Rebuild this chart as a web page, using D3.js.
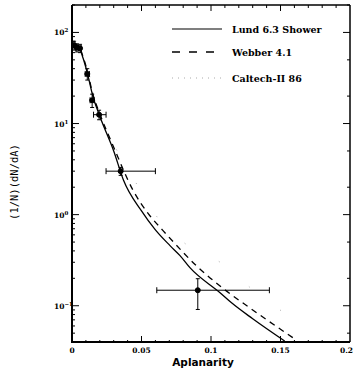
<!DOCTYPE html>
<html>
<head>
<meta charset="utf-8">
<script src="https://cdn.jsdelivr.net/npm/d3@7"></script>
<style>
  body { margin: 0; background: #fff; }
  svg { display: block; }
  .tick-label { font-family: "DejaVu Serif", serif; font-weight: bold; font-size: 7.5px; fill: #000; }
  .legend-label { font-family: "DejaVu Serif", serif; font-weight: bold; font-size: 9.5px; fill: #000; }
</style>
</head>
<body>
<div id="chart"></div>
<script>
// data

var series = ["Lund 6.3 Shower", "Webber 4.1", "Caltech-II 86"];

var lundA = [0.001, 0.005, 0.008, 0.011, 0.015, 0.02, 0.03, 0.037, 0.05, 0.06, 0.0705, 0.0777, 0.085, 0.1065, 0.115, 0.13, 0.153];
var lundV = [75, 69, 52, 36, 20, 12, 5.0, 2.4, 1.1, 0.68, 0.457, 0.355, 0.26, 0.139, 0.107, 0.072, 0.041];

var webberA = [0.001, 0.005, 0.008, 0.011, 0.015, 0.02, 0.03, 0.044, 0.055, 0.0655, 0.072, 0.09, 0.108, 0.13, 0.159];
var webberV = [77, 70, 54, 38, 21, 12.8, 5.5, 1.84, 1.02, 0.667, 0.52, 0.27, 0.158, 0.09, 0.0445];

var caltechA = [0.001, 0.005, 0.01, 0.02, 0.03, 0.049, 0.06, 0.08, 0.108, 0.13, 0.16];
var caltechV = [78, 71, 45, 13.5, 6.0, 1.88, 1.0, 0.5, 0.29, 0.15, 0.07];

// measured points: x, y, x error low/high, y error low/high
var ptA   = [0.0015, 0.0035, 0.0058, 0.011, 0.0145, 0.0195, 0.035, 0.0905];
var ptV   = [72, 68, 67, 35, 18, 12.5, 3.0, 0.148];
var ptXlo = [0.0005, 0.0025, 0.0048, 0.0095, 0.013, 0.0155, 0.0245, 0.061];
var ptXhi = [0.0025, 0.0045, 0.0068, 0.0125, 0.016, 0.0245, 0.060, 0.142];
var ptYlo = [64, 61, 60, 30, 15, 11, 2.7, 0.091];
var ptYhi = [80, 75, 74, 40, 21, 14, 3.3, 0.198];

var xTicks = [0, 0.05, 0.1, 0.15, 0.2];
var xTickLabels = ["0", "0.05", "0.1", "0.15", "0.2"];
var yTicks = [100, 10, 1, 0.1];
var yTickExp = ["2", "1", "0", "\u22121"];

var width = 354,
    height = 373,
    margin = { left: 72, right: 4, top: 5, bottom: 31 };

var svg = d3.select("#chart").append("svg")
    .attr("width", width)
    .attr("height", height);

var x = d3.scaleLinear().domain([0, 0.2]).range([margin.left, width - margin.right]);
var y = d3.scaleLog().domain([0.04, 200]).range([height - margin.bottom, margin.top]);

var x0 = margin.left, x1 = width - margin.right,
    y0 = height - margin.bottom, y1 = margin.top;

svg.append("clipPath").attr("id", "plot")
    .append("rect").attr("x", x0).attr("y", y1).attr("width", x1 - x0).attr("height", y0 - y1);

// minor / major ticks
var minorX = d3.range(0.01, 0.2, 0.01).filter(function (d) { return Math.abs(d * 20 - Math.round(d * 20)) > 1e-6; });
var majorX = [0.05, 0.1, 0.15];
var ticks = svg.append("g").attr("stroke", "#000");

minorX.forEach(function (d) {
    ticks.append("line").attr("x1", x(d)).attr("x2", x(d)).attr("y1", y0).attr("y2", y0 - 2).attr("stroke-width", 1);
    ticks.append("line").attr("x1", x(d)).attr("x2", x(d)).attr("y1", y1).attr("y2", y1 + 3).attr("stroke-width", 1);
});
majorX.forEach(function (d) {
    ticks.append("line").attr("x1", x(d)).attr("x2", x(d)).attr("y1", y0).attr("y2", y0 - 6).attr("stroke-width", 1);
    ticks.append("line").attr("x1", x(d)).attr("x2", x(d)).attr("y1", y1).attr("y2", y1 + 6).attr("stroke-width", 1);
});

var minorY = [];
[0.01, 0.1, 1, 10, 100].forEach(function (dec) {
    for (var k = 2; k <= 9; k++) {
        var v = dec * k;
        if (v >= 0.04 && v <= 200) minorY.push(v);
    }
});
minorY.forEach(function (d) {
    ticks.append("line").attr("x1", x0).attr("x2", x0 + 3).attr("y1", y(d)).attr("y2", y(d)).attr("stroke-width", 1);
    var m = Math.round(d / Math.pow(10, Math.floor(Math.log10(d) + 1e-9)));
    if (m === 2 || m === 5) {
        ticks.append("line").attr("x1", x1).attr("x2", x1 - 3).attr("y1", y(d)).attr("y2", y(d)).attr("stroke-width", 1);
    }
});
yTicks.forEach(function (d) {
    ticks.append("line").attr("x1", x0).attr("x2", x0 + 7).attr("y1", y(d)).attr("y2", y(d)).attr("stroke-width", 1);
    ticks.append("line").attr("x1", x1).attr("x2", x1 - 7).attr("y1", y(d)).attr("y2", y(d)).attr("stroke-width", 1);
});

// frame
svg.append("line").attr("x1", x0).attr("x2", x1).attr("y1", y1).attr("y2", y1).attr("stroke", "#000").attr("stroke-width", 1.5);
svg.append("line").attr("x1", x1).attr("x2", x1).attr("y1", y1).attr("y2", y0).attr("stroke", "#000").attr("stroke-width", 1.5);
svg.append("line").attr("x1", x0).attr("x2", x0).attr("y1", y1).attr("y2", y0 + 1).attr("stroke", "#000").attr("stroke-width", 2);
svg.append("line").attr("x1", x0 - 1).attr("x2", x1).attr("y1", y0).attr("y2", y0).attr("stroke", "#000").attr("stroke-width", 2);

// tick labels (last one pushed in so it stays inside the page)
svg.selectAll(".xl").data(xTicks).enter().append("text")
    .attr("class", "tick-label")
    .attr("x", function (d, i) { return i === xTicks.length - 1 ? width - 1 : x(d); })
    .attr("y", y0 + 11)
    .attr("text-anchor", function (d, i) { return i === xTicks.length - 1 ? "end" : "middle"; })
    .text(function (d, i) { return xTickLabels[i]; });

var yl = svg.selectAll(".yl").data(yTicks).enter().append("text")
    .attr("class", "tick-label")
    .attr("x", x0 - 18)
    .attr("y", function (d) { return y(d) + 3; })
    .attr("text-anchor", "start");
yl.append("tspan").text("10");
yl.append("tspan").attr("dy", -3).style("font-size", "5.5px").text(function (d, i) { return yTickExp[i]; });

// axis titles
svg.append("text")
    .attr("transform", "translate(18," + 182 + ") rotate(-90)")
    .attr("text-anchor", "middle")
    .style("font-family", "DejaVu Sans Mono, monospace")
    .style("font-size", "10.5px")
    .text("(1/N)(dN/dA)");

svg.append("text")
    .attr("x", 203)
    .attr("y", 366)
    .attr("text-anchor", "middle")
    .style("font-family", "DejaVu Sans, sans-serif")
    .style("font-weight", "bold")
    .style("font-size", "10.5px")
    .text("Aplanarity");

// curves
var line = d3.line()
    .x(function (d) { return x(d[0]); })
    .y(function (d) { return y(d[1]); })
    .curve(d3.curveMonotoneX);

var plot = svg.append("g").attr("clip-path", "url(#plot)");

plot.append("path")
    .attr("d", line(d3.zip(caltechA, caltechV)))
    .attr("fill", "none").attr("stroke", "#aaa").attr("stroke-width", 1)
    .attr("stroke-dasharray", "1,38");

plot.append("path")
    .attr("d", line(d3.zip(webberA, webberV)))
    .attr("fill", "none").attr("stroke", "#000").attr("stroke-width", 1.3)
    .attr("stroke-dasharray", "6,5");

plot.append("path")
    .attr("d", line(d3.zip(lundA, lundV)))
    .attr("fill", "none").attr("stroke", "#000").attr("stroke-width", 1.3);

// data points with error bars
var pts = d3.range(ptA.length);
var eb = plot.selectAll(".pt").data(pts).enter().append("g").attr("stroke", "#000").attr("stroke-width", 1);
eb.append("line")
    .attr("x1", function (i) { return x(ptXlo[i]); }).attr("x2", function (i) { return x(ptXhi[i]); })
    .attr("y1", function (i) { return y(ptV[i]); }).attr("y2", function (i) { return y(ptV[i]); });
eb.append("line")
    .attr("x1", function (i) { return x(ptA[i]); }).attr("x2", function (i) { return x(ptA[i]); })
    .attr("y1", function (i) { return y(ptYlo[i]); }).attr("y2", function (i) { return y(ptYhi[i]); });
// caps
eb.append("line")
    .attr("x1", function (i) { return x(ptXlo[i]); }).attr("x2", function (i) { return x(ptXlo[i]); })
    .attr("y1", function (i) { return y(ptV[i]) - 3; }).attr("y2", function (i) { return y(ptV[i]) + 3; });
eb.append("line")
    .attr("x1", function (i) { return x(ptXhi[i]); }).attr("x2", function (i) { return x(ptXhi[i]); })
    .attr("y1", function (i) { return y(ptV[i]) - 3; }).attr("y2", function (i) { return y(ptV[i]) + 3; });
eb.append("line")
    .attr("x1", function (i) { return x(ptA[i]) - 2; }).attr("x2", function (i) { return x(ptA[i]) + 2; })
    .attr("y1", function (i) { return y(ptYlo[i]); }).attr("y2", function (i) { return y(ptYlo[i]); });
eb.append("line")
    .attr("x1", function (i) { return x(ptA[i]) - 2; }).attr("x2", function (i) { return x(ptA[i]) + 2; })
    .attr("y1", function (i) { return y(ptYhi[i]); }).attr("y2", function (i) { return y(ptYhi[i]); });
eb.append("circle")
    .attr("cx", function (i) { return x(ptA[i]); })
    .attr("cy", function (i) { return y(ptV[i]); })
    .attr("r", 2.5)
    .attr("fill", "#000");

// legend
var legY = [29, 52, 78];
var legStyle = [
    { stroke: "#000", dash: null, w: 1.2 },
    { stroke: "#000", dash: "8,9", w: 1.5 },
    { stroke: "#aaa", dash: "1,5", w: 1 }
];
series.forEach(function (s, i) {
    svg.append("line")
        .attr("x1", 172).attr("x2", 222)
        .attr("y1", legY[i]).attr("y2", legY[i])
        .attr("stroke", legStyle[i].stroke)
        .attr("stroke-width", legStyle[i].w)
        .attr("stroke-dasharray", legStyle[i].dash);
    svg.append("text")
        .attr("class", "legend-label")
        .attr("x", 232)
        .attr("y", legY[i] + 3.5)
        .text(s);
});
</script>
</body>
</html>
